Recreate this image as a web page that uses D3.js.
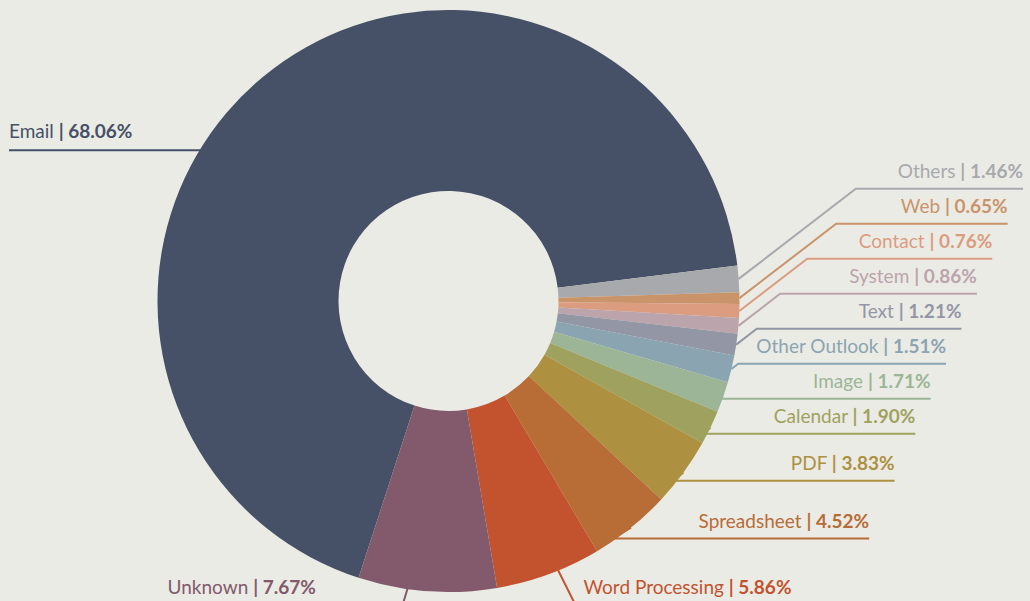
<!DOCTYPE html>
<html>
<head>
<meta charset="utf-8">
<script src="https://cdn.jsdelivr.net/npm/d3@7"></script>
<style>
html, body { margin: 0; padding: 0; background: #ebebe6; }
svg { display: block; font-family: Lato, 'Open Sans', sans-serif; }
</style>
</head>
<body>
<script>
const w = 1030
const h = 601

// slices in drawing order, clockwise starting with Email
const categories = ['Email', 'Others', 'Web', 'Contact', 'System', 'Text', 'Other Outlook',
    'Image', 'Calendar', 'PDF', 'Spreadsheet', 'Word Processing', 'Unknown']
const shares = [68.06, 1.46, 0.65, 0.76, 0.86, 1.21, 1.51, 1.71, 1.90, 3.83, 4.52, 5.86, 7.67]
const colors = ['#465167', '#a8a9ac', '#c9946a', '#db9c80', '#bba4ab', '#9396a4', '#8ba4b1',
    '#9cb597', '#9ea25e', '#ae9041', '#b86c36', '#c2532e', '#825a6c']

const cx = 448.5
const cy = 301
const outerR = 291
const innerR = 110
const labelR = 305
const gap = 35
const pad = 8
const startDeg = 198
const bottomBand = 30 * Math.PI / 180

// where the label texts line up on each side (absolute coords)
const rightRail = y => 1023 - 0.44 * (y - 189)
const leftRail = y => Math.max(9, 9 + (y - 152) * 0.35)

const data = categories.map((c, i) => ({ name: c, value: shares[i], color: colors[i] }))

const start = startDeg * Math.PI / 180
const pie = d3.pie()
    .sort(null)
    .value(d => d.value)
    .startAngle(start)
    .endAngle(start + 2 * Math.PI)

const arcs = pie(data)
const arc = d3.arc().innerRadius(innerR).outerRadius(outerR)

const svg = d3.select('body').append('svg')
    .attr('width', w)
    .attr('height', h)

const lineLayer = svg.append('g')
const sliceLayer = svg.append('g').attr('transform', `translate(${cx},${cy})`)
const textLayer = svg.append('g')

sliceLayer.selectAll('path')
    .data(arcs)
    .enter()
    .append('path')
    .attr('d', arc)
    .attr('fill', d => d.data.color)

// labels: text first so we can measure it
const labels = arcs.map(a => {
    const mid = (a.startAngle + a.endAngle) / 2
    const side = Math.sin(mid) >= 0 ? 1 : -1
    const t = textLayer.append('text')
        .attr('font-size', 19)
        .attr('fill', a.data.color)
    t.append('tspan').text(a.data.name + ' ')
    t.append('tspan').attr('font-weight', 'bold').text('| ' + a.data.value.toFixed(2) + '%')
    const c = arc.centroid(a)
    return {
        a, mid, side, t,
        width: t.node().getComputedTextLength(),
        bottom: Math.abs(((mid % (2 * Math.PI)) + 2 * Math.PI) % (2 * Math.PI) - Math.PI) < bottomBand,
        centroid: [cx + c[0], cy + c[1]],
        p0: [cx + outerR * Math.sin(mid), cy - outerR * Math.cos(mid)]
    }
})

// labels close to the bottom sit on one line under the ring
labels.filter(l => l.bottom).forEach(l => {
    l.y = cy + outerR + 13
    const slope = l.side > 0 ? 0.5 : 0.3
    const elbow = l.centroid[0] + l.side * slope * (l.y - l.centroid[1])
    let xs
    if (l.side > 0) {
        xs = elbow + pad
        l.points = [l.centroid, [elbow, l.y], [xs + l.width, l.y]]
    } else {
        xs = leftRail(l.y)
        l.points = [l.centroid, [elbow, l.y], [xs, l.y]]
    }
    l.t.attr('x', xs).attr('y', l.y - 11)
})

// right side: natural spot outside the ring, then push up from the bottom
const right = labels.filter(l => l.side > 0 && !l.bottom).sort((p, q) => p.mid - q.mid)
right.forEach(l => { l.y = cy - labelR * Math.cos(l.mid) })
for (let i = right.length - 2; i >= 0; i--) {
    right[i].y = Math.min(right[i].y, right[i + 1].y - gap)
}
right.forEach(l => {
    let elbow
    if (l.y < l.p0[1]) {
        elbow = l.p0[0] + 1.3 * (l.p0[1] - l.y)
    } else {
        // label below its slice: bend inside the ring so only the flat part shows
        const dy = l.y - cy
        elbow = cx + Math.sqrt(outerR * outerR - dy * dy) - 4
    }
    const xEnd = Math.max(elbow + pad + l.width, rightRail(l.y))
    l.points = [l.p0, [elbow, l.y], [xEnd, l.y]]
    l.t.attr('text-anchor', 'end').attr('x', xEnd).attr('y', l.y - 11)
})

// left side: level with the centroid
labels.filter(l => l.side < 0 && !l.bottom).forEach(l => {
    l.y = l.centroid[1] + 4
    const xStart = leftRail(l.y)
    l.points = [l.centroid, [l.centroid[0], l.y], [xStart, l.y]]
    l.t.attr('text-anchor', 'start').attr('x', xStart).attr('y', l.y - 12)
})

lineLayer.selectAll('path')
    .data(labels)
    .enter()
    .append('path')
    .attr('d', d => d3.line()(d.points))
    .attr('fill', 'none')
    .attr('stroke', d => d.a.data.color)
    .attr('stroke-width', 2)
</script>
</body>
</html>
